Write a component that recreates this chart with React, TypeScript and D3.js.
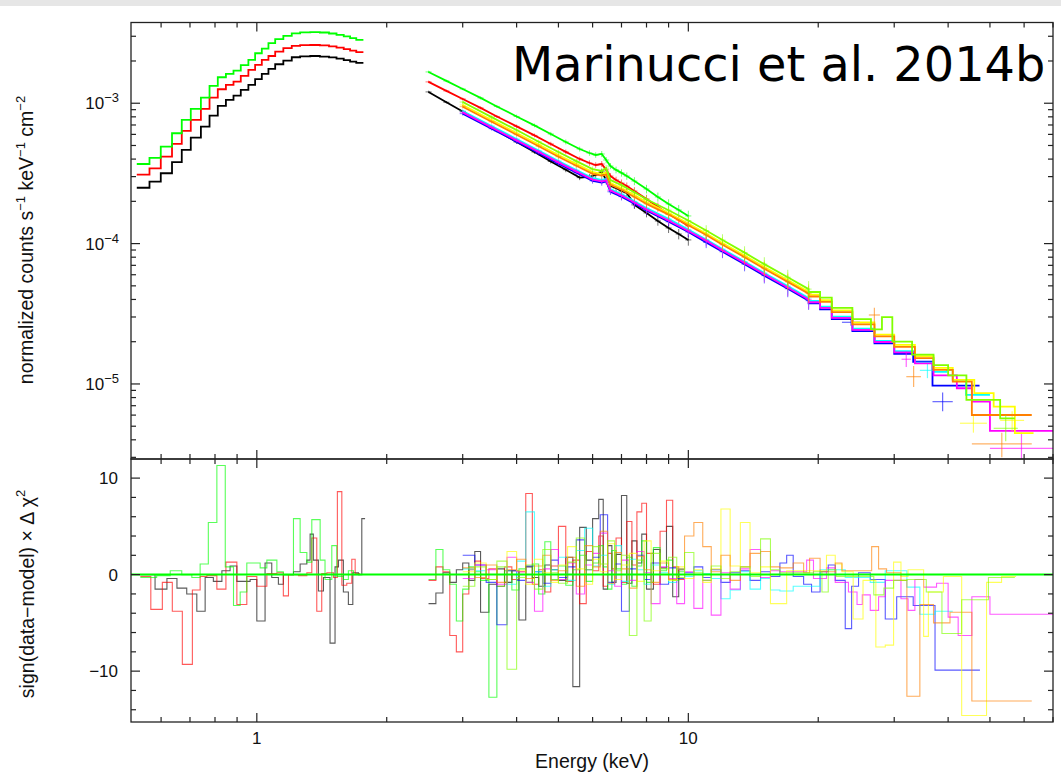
import * as d3 from "d3";
import { useEffect, useRef } from "react";

const width = 1061;
const height = 774;
const frame = { left: 131, right: 1053, top: 22.5, split: 459, bottom: 722 };

const energyRange = [0.511, 70];
const countsRange = [2.92e-6, 3.76e-3];
const residRange = [-15.27, 11.98];

const colors = {
  black: "#000000",
  red: "#ff0000",
  green: "#00ff00",
  blue: "#0000ff",
  cyan: "#00ffff",
  magenta: "#ff00ff",
  yellow: "#ffff00",
  orange: "#ff8000",
  lime: "#80ff00",
};

// ---- spectrum panel: XMM soft band (bin edges in keV, counts per bin) ----
const xmmSoftEdges = [0.527, 0.564, 0.599, 0.636, 0.67, 0.703, 0.742, 0.777, 0.812, 0.848, 0.883, 0.918, 0.956, 0.991, 1.027, 1.064, 1.103, 1.152, 1.205, 1.26, 1.33, 1.4, 1.47, 1.53, 1.59, 1.645, 1.7, 1.766];
const greenSoft = [3.69e-4, 4.08e-4, 4.91e-4, 6.11e-4, 7.6e-4, 9.11e-4, 1.096e-3, 1.328e-3, 1.532e-3, 1.618e-3, 1.707e-3, 1.866e-3, 2.035e-3, 2.27e-3, 2.45e-3, 2.68e-3, 2.86e-3, 3.02e-3, 3.15e-3, 3.2e-3, 3.21e-3, 3.19e-3, 3.14e-3, 3.07e-3, 2.99e-3, 2.91e-3, 2.83e-3];
const redSoft = [3.1e-4, 3.44e-4, 4.16e-4, 5.13e-4, 6.35e-4, 7.6e-4, 9.11e-4, 1.096e-3, 1.258e-3, 1.35e-3, 1.425e-3, 1.565e-3, 1.727e-3, 1.874e-3, 2.035e-3, 2.17e-3, 2.33e-3, 2.47e-3, 2.56e-3, 2.59e-3, 2.6e-3, 2.58e-3, 2.54e-3, 2.49e-3, 2.43e-3, 2.37e-3, 2.31e-3];
const blackSoft = [2.5e-4, 2.76e-4, 3.17e-4, 3.8e-4, 4.65e-4, 5.69e-4, 6.81e-4, 8.16e-4, 9.57e-4, 1.055e-3, 1.133e-3, 1.244e-3, 1.35e-3, 1.483e-3, 1.618e-3, 1.756e-3, 1.896e-3, 2.012e-3, 2.127e-3, 2.16e-3, 2.17e-3, 2.15e-3, 2.12e-3, 2.08e-3, 2.03e-3, 1.98e-3, 1.94e-3];

// ---- XMM hard band (fine bins, read as points) ----
const xmmHardE = [2.5, 2.75, 3.0, 3.3, 3.6, 4.0, 4.4, 4.8, 5.2, 5.6, 5.9, 6.1, 6.3, 6.45, 6.6, 6.8, 7.0, 7.2, 7.5, 8.0, 8.5, 9.0, 9.5, 10.0];
const blackHard = [1.204e-3, 1.016e-3, 8.74e-4, 7.41e-4, 6.36e-4, 5.3e-4, 4.49e-4, 3.85e-4, 3.36e-4, 2.95e-4, 2.99e-4, 3.08e-4, 3.24e-4, 2.84e-4, 2.57e-4, 2.49e-4, 2.37e-4, 2.3e-4, 1.886e-4, 1.654e-4, 1.45e-4, 1.293e-4, 1.171e-4, 1.062e-4];
const redHard = [1.419e-3, 1.224e-3, 1.073e-3, 9.26e-4, 8.05e-4, 6.84e-4, 5.9e-4, 5.13e-4, 4.5e-4, 4.01e-4, 3.75e-4, 3.63e-4, 3.69e-4, 3.35e-4, 3.03e-4, 2.84e-4, 2.7e-4, 2.57e-4, 2.37e-4, 2.08e-4, 1.824e-4, 1.626e-4, 1.474e-4, 1.336e-4];
const greenHard = [1.671e-3, 1.442e-3, 1.264e-3, 1.091e-3, 9.49e-4, 8.05e-4, 6.95e-4, 6.04e-4, 5.3e-4, 4.72e-4, 4.42e-4, 4.28e-4, 4.35e-4, 3.94e-4, 3.57e-4, 3.35e-4, 3.19e-4, 3.03e-4, 2.79e-4, 2.45e-4, 2.15e-4, 1.916e-4, 1.737e-4, 1.574e-4];
// relative error bars on the XMM hard points
const xmmHardErr = [0.02, 0.02, 0.02, 0.025, 0.025, 0.03, 0.03, 0.035, 0.04, 0.04, 0.045, 0.045, 0.05, 0.05, 0.05, 0.055, 0.06, 0.06, 0.065, 0.07, 0.075, 0.08, 0.085, 0.09];

// ---- NuSTAR spectra 3-19 keV (points) ----
const nuE = [3, 3.5, 4, 4.5, 5, 5.5, 6, 6.3, 6.45, 6.6, 7, 7.5, 8, 9, 10, 11, 12, 13.5, 15, 17, 19];
const blueNu = [8.43e-4, 6.59e-4, 5.32e-4, 4.4e-4, 3.71e-4, 3.2e-4, 2.8e-4, 2.72e-4, 2.78e-4, 2.34e-4, 2.16e-4, 1.92e-4, 1.72e-4, 1.43e-4, 1.21e-4, 1.02e-4, 8.75e-5, 7.13e-5, 5.91e-5, 4.77e-5, 3.92e-5];
const cyanNu = [8.8e-4, 6.88e-4, 5.56e-4, 4.6e-4, 3.88e-4, 3.34e-4, 2.93e-4, 2.84e-4, 2.88e-4, 2.44e-4, 2.25e-4, 2.0e-4, 1.79e-4, 1.5e-4, 1.26e-4, 1.07e-4, 9.14e-5, 7.45e-5, 6.17e-5, 4.98e-5, 4.09e-5];
const magentaNu = [8.61e-4, 6.73e-4, 5.44e-4, 4.5e-4, 3.79e-4, 3.27e-4, 2.86e-4, 2.78e-4, 2.82e-4, 2.39e-4, 2.2e-4, 1.96e-4, 1.75e-4, 1.46e-4, 1.23e-4, 1.05e-4, 8.95e-5, 7.29e-5, 6.04e-5, 4.87e-5, 4.0e-5];
const yellowNu = [9.72e-4, 7.6e-4, 6.14e-4, 5.08e-4, 4.28e-4, 3.7e-4, 3.23e-4, 3.14e-4, 3.2e-4, 2.7e-4, 2.49e-4, 2.22e-4, 1.98e-4, 1.65e-4, 1.39e-4, 1.18e-4, 1.01e-4, 8.23e-5, 6.81e-5, 5.5e-5, 4.53e-5];
const orangeNu = [9.45e-4, 7.38e-4, 5.97e-4, 4.94e-4, 4.16e-4, 3.59e-4, 3.14e-4, 3.05e-4, 3.1e-4, 2.62e-4, 2.42e-4, 2.15e-4, 1.92e-4, 1.61e-4, 1.35e-4, 1.15e-4, 9.81e-5, 8.0e-5, 6.62e-5, 5.34e-5, 4.4e-5];
const limeNu = [1.02e-3, 7.96e-4, 6.44e-4, 5.32e-4, 4.49e-4, 3.87e-4, 3.39e-4, 3.29e-4, 3.45e-4, 2.83e-4, 2.61e-4, 2.32e-4, 2.07e-4, 1.73e-4, 1.46e-4, 1.24e-4, 1.06e-4, 8.62e-5, 7.14e-5, 5.76e-5, 4.74e-5];
// relative error bars on the NuSTAR points
const nuErr = [0.03, 0.03, 0.035, 0.035, 0.04, 0.04, 0.045, 0.05, 0.05, 0.05, 0.06, 0.065, 0.07, 0.075, 0.08, 0.09, 0.1, 0.11, 0.12, 0.13, 0.14];

// ---- NuSTAR high-energy bins (edges from 19 keV, counts) ----
const blueTailEdges = [19, 20.2, 21.5, 24, 27, 30, 33.2, 36.8, 47.3];
const blueTail = [3.75e-5, 3.4e-5, 2.9e-5, 2.38e-5, 1.95e-5, 1.64e-5, 1.44e-5, 9.72e-6];
const cyanTailEdges = [19, 20.2, 21.5, 24, 27, 30, 33.5, 37, 39.7, 41, 44, 50];
const cyanTail = [3.9e-5, 3.55e-5, 3.02e-5, 2.48e-5, 2.03e-5, 1.71e-5, 1.42e-5, 1.22e-5, 1.258e-5, 1.068e-5, 8.35e-6];
const magentaTailEdges = [19, 20.2, 21.5, 24, 27, 30, 33.5, 37, 41.9, 45.4, 50, 70];
const magentaTail = [3.82e-5, 3.48e-5, 2.96e-5, 2.43e-5, 1.99e-5, 1.68e-5, 1.4e-5, 1.15e-5, 9.32e-6, 7.48e-6, 4.63e-6];
const yellowTailEdges = [19, 20.2, 21.5, 24, 27, 30, 33.5, 37, 41, 46, 51, 57.1, 63.1];
const yellowTail = [4.32e-5, 3.95e-5, 3.34e-5, 2.74e-5, 2.25e-5, 1.9e-5, 1.58e-5, 1.3e-5, 1.07e-5, 8.6e-6, 6.9e-6, 4.47e-6];
const orangeTailEdges = [19, 20.2, 21.5, 24, 27, 30, 33.5, 37, 41, 45.4, 62.5];
const orangeTail = [4.2e-5, 3.84e-5, 3.25e-5, 2.66e-5, 2.18e-5, 1.84e-5, 1.53e-5, 1.26e-5, 1.04e-5, 6.01e-6];
const limeTailEdges = [19, 20.2, 21.5, 24, 26.5, 28.1, 29.7, 33, 37, 40, 44.1, 52.8, 57.1];
const limeTail = [4.52e-5, 4.12e-5, 3.48e-5, 2.9e-5, 2.45e-5, 2.99e-5, 2.0e-5, 1.62e-5, 1.36e-5, 1.15e-5, 7.69e-6, 5.69e-6];

// data crosses: [E lo, E hi, value, value lo, value hi]
const blueCrosses = [[22.7, 25.0, 2.75e-5, 2.6e-5, 2.9e-5], [36.8, 41.0, 7.48e-6, 6.4e-6, 8.7e-6]];
const cyanCrosses = [[34.4, 37.3, 1.25e-5, 1.1e-5, 1.4e-5]];
const magentaCrosses = [[31.2, 32.8, 1.5e-5, 1.32e-5, 1.7e-5], [50, 70, 3.48e-6, 2.9e-6, 4.5e-6]];
const yellowCrosses = [[42.6, 49.2, 5.25e-6, 4.5e-6, 6.0e-6], [52.8, 60, 5.5e-6, 4.6e-6, 6.4e-6]];
const orangeCrosses = [[26.2, 27.8, 3.1e-5, 2.63e-5, 3.49e-5], [32.0, 34.6, 1.127e-5, 9.5e-6, 1.34e-5], [45.4, 62.5, 3.74e-6, 3.0e-6, 4.5e-6]];
const limeCrosses = [[51, 58, 4.83e-6, 3.9e-6, 6.0e-6]];

// ---- residual panel: sign(data-model) x delta chi^2 ----
const blackResSoftEdges = [0.537, 0.581, 0.619, 0.653, 0.688, 0.726, 0.759, 0.793, 0.83, 0.867, 0.899, 0.965, 1.0, 1.045, 1.083, 1.122, 1.152, 1.216, 1.26, 1.306, 1.329, 1.352, 1.389, 1.427, 1.478, 1.518, 1.546, 1.587, 1.63, 1.669, 1.72, 1.751, 1.782];
const blackResSoft = [0.0, -1.5, -0.4, -1.4, -2.0, -3.8, -0.3, -0.7, 0.4, 0.9, -0.7, -0.5, -4.8, 1.2, -0.3, -1.0, 0.0, 0.3, 1.1, 1.5, 4.2, 1.5, -1.7, -0.3, -7.1, 0.8, 1.5, -1.8, -3.1, 0.2, 0.0, 5.8];
const redResSoftEdges = [0.537, 0.568, 0.604, 0.637, 0.672, 0.709, 0.739, 0.766, 0.808, 0.848, 0.899, 0.948, 1.0, 1.055, 1.113, 1.152, 1.184, 1.249, 1.306, 1.341, 1.377, 1.414, 1.453, 1.505, 1.537, 1.574, 1.616, 1.66, 1.69, 1.735];
const redResSoft = [-0.2, -3.6, -0.8, -3.8, -9.3, -1.6, -0.2, -0.1, -1.5, 1.3, -3.1, -0.2, -1.2, 0.1, 0.2, -2.2, 0.0, -0.1, 0.2, 3.8, -3.8, 0.1, 0.2, -0.3, 8.6, -1.1, -0.9, 1.6, 0.1];
const greenResSoftEdges = [0.537, 0.586, 0.63, 0.67, 0.707, 0.739, 0.772, 0.808, 0.845, 0.883, 0.915, 0.948, 1.018, 1.055, 1.113, 1.152, 1.216, 1.26, 1.306, 1.341, 1.402, 1.439, 1.492, 1.532, 1.587, 1.63, 1.675, 1.735];
const greenResSoft = [-0.3, -0.1, 0.4, 0.0, -0.3, 1.1, 5.4, 11.3, 0.8, -3.2, -1.8, 1.2, 0.7, 1.5, 0.3, 0.0, 5.8, 2.3, 1.3, 5.7, 1.5, -0.5, 3.0, -0.2, -0.5, 0.4, 0.0];

const xmmResHardEdges = [2.5, 2.6, 2.7, 2.8, 2.9, 3.0, 3.1, 3.2, 3.3, 3.45, 3.6, 3.75, 3.9, 4.05, 4.2, 4.35, 4.5, 4.65, 4.8, 5.0, 5.2, 5.4, 5.6, 5.8, 6.0, 6.2, 6.35, 6.5, 6.65, 6.8, 7.0, 7.2, 7.4, 7.6, 7.8, 8.0, 8.3, 8.6, 8.9, 9.2, 9.5, 9.8];
const blackResHard = [-3.0, -1.9, 0.2, -0.8, 0.5, 1.2, -0.6, 2.4, -3.9, -1.0, 0.6, -0.8, 0.4, -4.7, 0.8, -0.3, -1.2, 1.0, 0.5, -0.6, 1.8, -11.6, 4.9, 1.5, 5.8, 7.8, -1.5, 3.0, -0.8, 2.1, 8.2, -0.9, 3.5, 1.2, 4.2, -1.5, 2.6, 0.7, 5.0, -2.3, 0.5];
const redResHard = [-0.6, 0.8, 0.3, -6.3, -8.0, -2.0, 0.5, 1.4, -0.4, 0.6, -1.2, 0.8, -0.5, 0.3, 8.4, -1.0, 0.5, -1.8, 0.9, 5.0, -0.7, 1.5, -3.0, 2.4, 0.4, 4.0, -1.2, 2.2, 0.6, 3.8, -0.8, 5.5, 1.0, 6.5, 7.4, 2.2, -1.0, 4.5, 7.7, 0.8, -0.5];
const greenResHard = [-0.5, 2.6, 0.5, -1.0, -4.8, -1.5, 0.8, 0.3, -0.6, -12.7, -1.2, 0.4, -1.6, 0.6, -0.8, 1.1, -2.0, 3.4, -0.5, 0.9, -1.1, 0.5, 2.0, -0.7, 1.2, 3.0, 0.8, -1.5, 2.5, 0.6, -1.0, 1.8, -1.2, 0.9, 3.5, -0.8, 2.8, 0.4, 1.5, -0.6, 0.3];

const nuResLowEdges = [3.0, 3.2, 3.4, 3.6, 3.8, 4.0, 4.2, 4.4, 4.6, 4.8, 5.0, 5.25, 5.5, 5.75, 6.0, 6.25, 6.5, 6.75, 7.0, 7.3, 7.6, 7.9, 8.2, 8.6, 9.0, 9.4, 9.8, 10.3, 10.8, 11.3, 11.9, 12.5, 13.2, 13.9, 14.7, 15.5, 16.3];
const blueResLow = [2.0, 1.0, -0.8, -5.2, 0.4, -0.6, 0.9, 0.3, -0.9, 1.5, -0.3, 0.8, 3.6, 0.5, 1.8, 6.2, -0.8, 1.1, -3.8, 0.6, 2.0, -0.5, 1.2, -1.0, 0.7, -0.4, 0.2, 0.8, -0.3, 0.5, -0.8, 0.2, 0.4, -0.6, 0.3, -0.2];
const cyanResLow = [0.6, 0.4, -0.5, 0.8, -1.0, 1.4, 6.5, 0.3, -1.2, 0.5, 1.8, -0.6, 2.5, 4.8, 0.9, 2.0, -1.0, 3.0, -0.7, 1.6, 0.5, -1.0, 1.0, 0.2, -0.8, 0.6, -0.2, 0.4, 0.1, -0.4, -2.5, -1.6, 0.3, -1.5, -0.4, -1.6];
const magentaResLow = [-0.4, 1.0, 0.5, -1.0, 1.8, 0.3, -0.8, -3.8, 0.6, 2.6, -0.5, 1.2, -2.0, 1.0, 2.2, 4.3, 0.4, -1.2, 1.5, -0.6, 2.4, 0.2, -3.0, 0.8, -0.4, -3.0, 0.3, -3.5, -0.6, -4.2, 0.2, -1.5, 0.6, 2.6, -0.3, 0.4];
const yellowResLow = [0.3, 1.2, -0.5, 0.8, 2.4, 0.4, -1.0, 1.6, 0.2, -0.8, 1.0, 2.9, 0.6, -1.0, 1.6, 0.3, 3.2, -0.5, 1.0, 2.2, -0.7, 3.5, 0.4, 1.4, -0.6, 0.8, -0.4, 0.5, -0.8, 0.6, 6.8, 0.9, 5.4, 0.2, 0.8, -3.0];
const orangeResLow = [0.7, -0.3, 1.0, -0.8, 0.5, 1.6, -0.4, 0.9, 2.0, -0.6, 0.4, 1.8, -1.2, 3.0, 0.8, 4.5, -0.9, 2.3, 0.6, -1.4, 1.9, 0.5, -0.8, 1.2, -0.5, 0.6, 4.0, 5.4, 2.9, 0.3, 2.0, -0.6, 0.8, 2.2, 2.4, 0.8];
const limeResLow = [-1.2, 0.8, -0.5, 1.4, -9.8, -0.3, 1.0, -1.5, 2.6, 0.2, -0.9, 1.3, 3.8, 0.5, 2.9, 1.1, 3.5, 0.4, 2.0, -6.3, 1.5, -4.8, 2.2, 0.6, 1.8, -0.3, 2.3, 0.2, -0.6, 0.9, -0.4, 0.3, 0.8, -0.2, 3.7, 0.5];

const blueResTailEdges = [16.3, 16.9, 17.5, 18.5, 19.3, 20.2, 21.1, 21.9, 23.1, 23.9, 24.8, 26.4, 28.6, 30.4, 33.2, 37.3, 47.4];
const blueResTail = [1.2, 2.0, -0.2, -1.0, -1.8, 0.3, 1.0, -0.6, -5.6, -1.2, 0.2, -0.5, -4.6, -2.3, -3.2, -9.9];
const cyanResTailEdges = [16.3, 17.5, 20.2, 23.1, 26.4, 28.6, 32.1, 34.4, 37.3, 41.0];
const cyanResTail = [-1.7, -1.2, 0.5, -0.3, -0.8, 0.4, -1.3, -4.1, -3.8];
const magentaResTailEdges = [16.3, 18.8, 19.5, 20.9, 21.9, 23.5, 24.6, 25.3, 26.4, 27.6, 28.6, 31.1, 32.3, 33.5, 35.1, 37.6, 40.0, 42.2, 45.4, 50.0, 70.0];
const magentaResTail = [0.3, 1.5, -0.4, 0.7, -0.8, -1.8, -3.1, -2.1, -3.7, -2.3, -0.6, -2.5, -3.7, -0.5, -1.3, -0.9, -4.4, -6.3, -2.3, -4.1];
const yellowResTailEdges = [16.3, 16.9, 20.9, 21.9, 22.7, 24.1, 25.4, 27.2, 28.6, 29.9, 31.1, 32.3, 35.1, 36.0, 39.0, 43.0, 49.1, 53.2, 57.5];
const yellowResTail = [-3.0, 0.4, 2.0, 1.1, 0.3, -4.6, -0.6, -7.5, -7.3, 1.3, -0.2, 0.5, -6.4, -1.8, -0.2, -14.6, -0.8, -0.2];
const orangeResTailEdges = [16.3, 17.5, 18.5, 19.1, 20.2, 21.9, 22.7, 26.6, 27.6, 28.8, 31.1, 32.1, 34.4, 37.0, 40.4, 45.4, 62.5];
const orangeResTail = [0.7, 1.2, 0.2, 1.7, 0.3, 1.2, 0.4, 2.9, 0.6, 0.2, -0.6, -12.6, -3.1, -5.0, -3.9, -13.1];
const limeResTailEdges = [16.3, 19.5, 20.4, 21.1, 22.0, 26.9, 28.4, 29.9, 32.1, 35.6, 38.7, 43.0, 44.1, 49.6, 57.1];
const limeResTail = [0.2, 0.3, -1.8, 0.5, -0.2, -2.1, -1.4, -0.6, -0.5, -1.8, -6.1, -2.6, -2.6, -0.3];

type Pt = [number, number];

const stepPoints = (edges: number[], vals: number[]): Pt[] => {
  const pts: Pt[] = [];
  vals.forEach((v, i) => {
    pts.push([edges[i], v]);
    pts.push([edges[i + 1], v]);
  });
  return pts;
};
const knotPoints = (es: number[], vs: number[]): Pt[] => es.map((e, i) => [e, vs[i]] as Pt);

const App = () => {
  const ref = useRef<SVGSVGElement>(null);

  useEffect(() => {
    const svg = d3.select(ref.current);
    svg.selectAll("*").remove();

    const { left, right, top, split, bottom } = frame;
    const x = d3.scaleLog().domain(energyRange).range([left, right]);
    const yTop = d3.scaleLog().domain(countsRange).range([split, top]);
    const yRes = d3.scaleLinear().domain(residRange).range([bottom, split]);

    svg.append("rect").attr("width", width).attr("height", height).attr("fill", "#fff");
    svg.append("rect").attr("width", width).attr("height", 6).attr("fill", "#e6e6e6");

    const defs = svg.append("defs");
    defs.append("clipPath").attr("id", "clipTop")
      .append("rect").attr("x", left).attr("y", top).attr("width", right - left).attr("height", split - top);
    defs.append("clipPath").attr("id", "clipRes")
      .append("rect").attr("x", left).attr("y", split).attr("width", right - left).attr("height", bottom - split);

    // ---------- spectrum panel ----------
    const topG = svg.append("g").attr("clip-path", "url(#clipTop)");
    const specLine = d3.line<Pt>().x((d) => x(d[0])).y((d) => yTop(d[1]));

    const spectra = [
      { color: colors.black, parts: [stepPoints(xmmSoftEdges, blackSoft), knotPoints(xmmHardE, blackHard)], bars: [xmmHardE, blackHard, xmmHardErr], crosses: [] as number[][] },
      { color: colors.red, parts: [stepPoints(xmmSoftEdges, redSoft), knotPoints(xmmHardE, redHard)], bars: [xmmHardE, redHard, xmmHardErr], crosses: [] as number[][] },
      { color: colors.green, parts: [stepPoints(xmmSoftEdges, greenSoft), knotPoints(xmmHardE, greenHard)], bars: [xmmHardE, greenHard, xmmHardErr], crosses: [] as number[][] },
      { color: colors.blue, parts: [[...knotPoints(nuE, blueNu), ...stepPoints(blueTailEdges, blueTail)]], bars: [nuE, blueNu, nuErr], crosses: blueCrosses },
      { color: colors.cyan, parts: [[...knotPoints(nuE, cyanNu), ...stepPoints(cyanTailEdges, cyanTail)]], bars: [nuE, cyanNu, nuErr], crosses: cyanCrosses },
      { color: colors.magenta, parts: [[...knotPoints(nuE, magentaNu), ...stepPoints(magentaTailEdges, magentaTail)]], bars: [nuE, magentaNu, nuErr], crosses: magentaCrosses },
      { color: colors.yellow, parts: [[...knotPoints(nuE, yellowNu), ...stepPoints(yellowTailEdges, yellowTail)]], bars: [nuE, yellowNu, nuErr], crosses: yellowCrosses },
      { color: colors.orange, parts: [[...knotPoints(nuE, orangeNu), ...stepPoints(orangeTailEdges, orangeTail)]], bars: [nuE, orangeNu, nuErr], crosses: orangeCrosses },
      { color: colors.lime, parts: [[...knotPoints(nuE, limeNu), ...stepPoints(limeTailEdges, limeTail)]], bars: [nuE, limeNu, nuErr], crosses: limeCrosses },
    ];

    spectra.forEach((s) => {
      s.parts.forEach((p) => {
        topG.append("path").attr("d", specLine(p)).attr("fill", "none")
          .attr("stroke", s.color).attr("stroke-width", 1.8).attr("stroke-linejoin", "miter");
      });
      const [es, vs, errs] = s.bars;
      es.forEach((e, i) => {
        const px = x(e);
        topG.append("line").attr("x1", px).attr("x2", px)
          .attr("y1", yTop(vs[i] * (1 - errs[i]))).attr("y2", yTop(vs[i] * (1 + errs[i])))
          .attr("stroke", s.color).attr("stroke-width", 1).attr("opacity", 0.55);
        topG.append("line").attr("x1", px - 3).attr("x2", px + 3)
          .attr("y1", yTop(vs[i])).attr("y2", yTop(vs[i]))
          .attr("stroke", s.color).attr("stroke-width", 1).attr("opacity", 0.55);
      });
      s.crosses.forEach((c) => {
        const [elo, ehi, v, vlo, vhi] = c;
        topG.append("line").attr("x1", x(elo)).attr("x2", x(ehi)).attr("y1", yTop(v)).attr("y2", yTop(v))
          .attr("stroke", s.color).attr("stroke-width", 1.2).attr("opacity", 0.6);
        topG.append("line").attr("x1", x(Math.sqrt(elo * ehi))).attr("x2", x(Math.sqrt(elo * ehi)))
          .attr("y1", yTop(vlo)).attr("y2", yTop(vhi))
          .attr("stroke", s.color).attr("stroke-width", 1.2).attr("opacity", 0.6);
      });
    });

    // ---------- residual panel ----------
    const resG = svg.append("g").attr("clip-path", "url(#clipRes)");
    const resLine = d3.line<Pt>().x((d) => x(d[0])).y((d) => yRes(d[1]));

    const residuals = [
      { color: colors.black, parts: [stepPoints(blackResSoftEdges, blackResSoft), stepPoints(xmmResHardEdges, blackResHard)] },
      { color: colors.red, parts: [stepPoints(redResSoftEdges, redResSoft), stepPoints(xmmResHardEdges, redResHard)] },
      { color: colors.green, parts: [stepPoints(greenResSoftEdges, greenResSoft), stepPoints(xmmResHardEdges, greenResHard)] },
      { color: colors.blue, parts: [stepPoints([...nuResLowEdges, ...blueResTailEdges.slice(1)], [...blueResLow, ...blueResTail])] },
      { color: colors.cyan, parts: [stepPoints([...nuResLowEdges, ...cyanResTailEdges.slice(1)], [...cyanResLow, ...cyanResTail])] },
      { color: colors.magenta, parts: [stepPoints([...nuResLowEdges, ...magentaResTailEdges.slice(1)], [...magentaResLow, ...magentaResTail])] },
      { color: colors.yellow, parts: [stepPoints([...nuResLowEdges, ...yellowResTailEdges.slice(1)], [...yellowResLow, ...yellowResTail])] },
      { color: colors.orange, parts: [stepPoints([...nuResLowEdges, ...orangeResTailEdges.slice(1)], [...orangeResLow, ...orangeResTail])] },
      { color: colors.lime, parts: [stepPoints([...nuResLowEdges, ...limeResTailEdges.slice(1)], [...limeResLow, ...limeResTail])] },
    ];

    residuals.forEach((s) => {
      s.parts.forEach((p) => {
        resG.append("path").attr("d", resLine(p)).attr("fill", "none")
          .attr("stroke", s.color).attr("stroke-width", 1.1).attr("opacity", 0.65);
      });
    });

    resG.append("line").attr("x1", left).attr("x2", right).attr("y1", yRes(0)).attr("y2", yRes(0))
      .attr("stroke", colors.green).attr("stroke-width", 2);

    // ---------- frames and ticks ----------
    const axisColor = "#222";
    const fr = svg.append("g").attr("fill", "none").attr("stroke", axisColor).attr("stroke-width", 1.3);
    fr.append("rect").attr("x", left).attr("y", top).attr("width", right - left).attr("height", split - top);
    fr.append("rect").attr("x", left).attr("y", split).attr("width", right - left).attr("height", bottom - split);

    const isDecade = (v: number) => Math.abs(Math.log10(v) - Math.round(Math.log10(v))) < 1e-6;
    const tickG = svg.append("g").attr("stroke", axisColor).attr("stroke-width", 1.2);

    x.ticks().forEach((t) => {
      const len = isDecade(t) ? 9 : 5;
      const px = x(t);
      [[top, 1], [split, -1], [split, 1], [bottom, -1]].forEach(([y0, dir]) => {
        tickG.append("line").attr("x1", px).attr("x2", px).attr("y1", y0).attr("y2", y0 + dir * len);
      });
    });

    yTop.ticks().forEach((t) => {
      const len = isDecade(t) ? 9 : 5;
      const py = yTop(t);
      tickG.append("line").attr("x1", left).attr("x2", left + len).attr("y1", py).attr("y2", py);
      tickG.append("line").attr("x1", right).attr("x2", right - len).attr("y1", py).attr("y2", py);
    });

    yRes.ticks(14).forEach((t) => {
      const len = t % 10 === 0 ? 9 : 5;
      const py = yRes(t);
      tickG.append("line").attr("x1", left).attr("x2", left + len).attr("y1", py).attr("y2", py);
      tickG.append("line").attr("x1", right).attr("x2", right - len).attr("y1", py).attr("y2", py);
    });

    // ---------- labels ----------
    const font = "'Liberation Sans', Arial, Helvetica, sans-serif";
    const txt = svg.append("g").attr("font-family", font).attr("fill", "#111");

    yTop.ticks().filter(isDecade).forEach((t) => {
      const el = txt.append("text").attr("x", 119).attr("y", yTop(t) + 6).attr("text-anchor", "end").attr("font-size", 17);
      el.append("tspan").text("10");
      el.append("tspan").attr("dy", -7).attr("font-size", 13).text("\u2212" + Math.round(-Math.log10(t)));
    });

    yRes.ticks(14).filter((t) => t % 10 === 0).forEach((t) => {
      txt.append("text").attr("x", 118).attr("y", yRes(t) + 6).attr("text-anchor", "end").attr("font-size", 17)
        .text(t < 0 ? "\u2212" + Math.abs(t) : String(t));
    });

    x.ticks().filter(isDecade).forEach((t) => {
      txt.append("text").attr("x", x(t)).attr("y", 744).attr("text-anchor", "middle").attr("font-size", 17).text(String(t));
    });

    txt.append("text").attr("x", 592).attr("y", 768).attr("text-anchor", "middle").attr("font-size", 19.5).text("Energy (keV)");

    const yl = txt.append("text").attr("transform", "translate(33,240) rotate(-90)").attr("text-anchor", "middle").attr("font-size", 19.5);
    yl.append("tspan").text("normalized counts s");
    yl.append("tspan").attr("dy", -8).attr("font-size", 13).text("\u22121");
    yl.append("tspan").attr("dy", 8).text(" keV");
    yl.append("tspan").attr("dy", -8).attr("font-size", 13).text("\u22121");
    yl.append("tspan").attr("dy", 8).text(" cm");
    yl.append("tspan").attr("dy", -8).attr("font-size", 13).text("\u22122");

    const rl = txt.append("text").attr("transform", "translate(34,594) rotate(-90)").attr("text-anchor", "middle").attr("font-size", 19.5);
    rl.append("tspan").text("sign(data\u2212model) \u00d7 \u0394 \u03c7");
    rl.append("tspan").attr("dy", -9).attr("font-size", 13).text("2");

    svg.append("text").attr("x", 512).attr("y", 81).attr("font-family", "'DejaVu Sans', sans-serif")
      .attr("font-size", 47.8).attr("fill", "#000").text("Marinucci et al. 2014b");
  }, []);

  return (
    <svg ref={ref} width={width} height={height}
      style={{ position: "absolute", left: 0, top: 0, display: "block" }} />
  );
};

export default App;
